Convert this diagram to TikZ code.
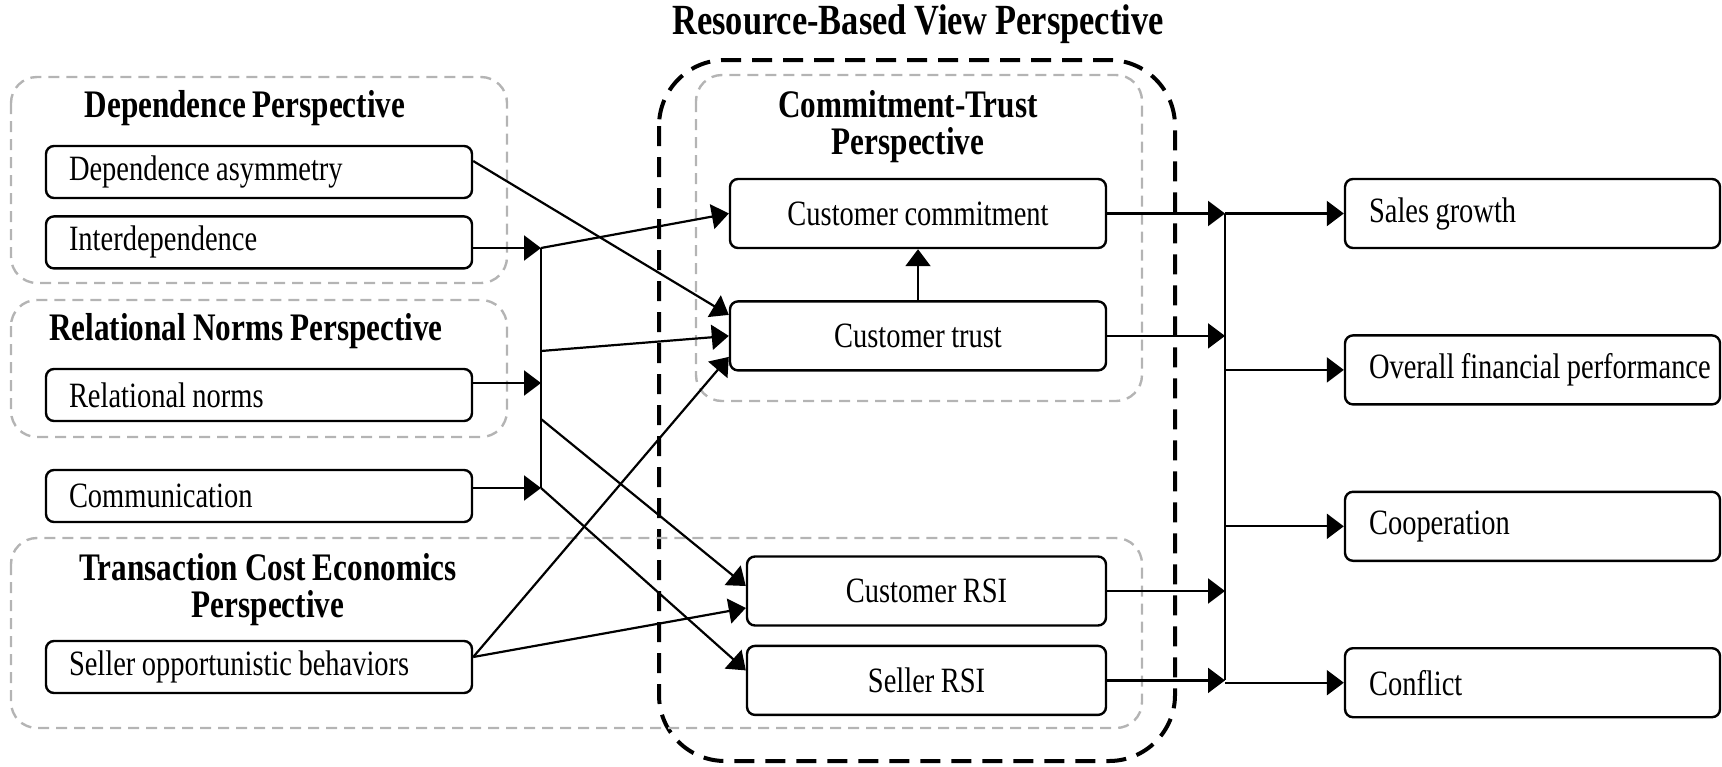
\documentclass[tikz,border=0pt]{standalone}
\usepackage{fontspec}
\setmainfont{Liberation Serif}[FakeStretch=0.8, WordSpace=0.9]
\usepackage{xcolor}
\usepackage{tikz}
\usetikzlibrary{positioning,arrows.meta}
\definecolor{PerspGray}{HTML}{B4B4B4}
\definecolor{FrameBlack}{HTML}{000000}
\tikzset{factorbox/.style={draw, rounded corners=4pt, line width=1.2pt, minimum width=213pt, minimum height=26pt, inner xsep=11.5pt, text width=190pt, align=flush left, font=\fontsize{17.8pt}{20pt}\selectfont}, corebox/.style={draw, rounded corners=4pt, line width=1.2pt, minimum width=188pt, minimum height=34.5pt, align=center, font=\fontsize{17.8pt}{20pt}\selectfont}, outcomebox/.style={draw, rounded corners=4pt, line width=1.2pt, minimum width=187.5pt, minimum height=34.5pt, inner xsep=12pt, text width=163.5pt, align=flush left, font=\fontsize{17.8pt}{20pt}\selectfont}, persptitle/.style={font=\fontsize{19.5pt}{18.5pt}\selectfont\bfseries, inner sep=0pt}, rbvtitle/.style={font=\fontsize{21.5pt}{24pt}\selectfont\bfseries, inner sep=0pt}, perspframe/.style={draw=PerspGray, line width=1.2pt, dash pattern=on 5.5pt off 3.5pt, rounded corners=13pt}, rbvframe/.style={draw=FrameBlack, line width=2pt, dash pattern=on 10pt off 5.5pt, rounded corners=33pt}, link/.style={line width=1.1pt}, linkarrow/.style={-{Triangle[length=8.5pt,width=12.5pt]}, line width=1.1pt}}
\begin{document}
\begin{tikzpicture}[x=0.5pt,y=-0.5pt]
\useasboundingbox (0,0) rectangle (1722,766);
\draw[rbvframe] (659,60) rectangle (1175,761);
\draw[perspframe] (11,77) rectangle (507,283);
\draw[perspframe] (11,300) rectangle (507,437);
\draw[perspframe] (11,538) rectangle (1142,728);
\draw[perspframe] (696,75) rectangle (1142,401);
\node[rbvtitle] (rbvtitle) at (918,24) {Resource-Based View Perspective};
\node[persptitle] (deptitle) at (245,108) {Dependence Perspective};
\node[persptitle] (reltitle) at (246,331) {Relational Norms Perspective};
\node[persptitle, align=center] (tcetitle) at (268,590) {Transaction Cost Economics\\Perspective};
\node[persptitle, align=center] (cttitle) at (908,127) {Commitment-Trust\\Perspective};
\node[factorbox] (depasym) at (259,172) {Dependence asymmetry};
\node[factorbox, below=8pt of depasym] (interdep) {Interdependence};
\node[factorbox] (relnorms) at (259,395) {Relational norms};
\node[factorbox] (comm) at (259,496) {Communication};
\node[factorbox] (sellopp) at (259,667) {Seller opportunistic behaviors};
\node[corebox] (commit) at (918,213.5) {Customer commitment};
\node[corebox, below=25.5pt of commit] (trust) {Customer trust};
\node[corebox, minimum width=179.5pt] (custrsi) at (926.5,591) {Customer RSI};
\node[corebox, minimum width=179.5pt, below=9pt of custrsi] (sellrsi) {Seller RSI};
\node[outcomebox] (sales) at (1532.5,213.5) {Sales growth};
\node[outcomebox, below=42.5pt of sales] (overall) {\mbox{Overall financial performance}};
\node[outcomebox, below=42.5pt of overall] (coop) {Cooperation};
\node[outcomebox, below=42.5pt of coop] (conflict) {Conflict};
\coordinate (bustop) at (541,248);
\coordinate (busmid) at (541,351);
\coordinate (busrel) at (541,383);
\coordinate (busrsi) at (541,419);
\coordinate (busbot) at (541,488);
\coordinate (rbus) at (1225,0);
\draw[link] (bustop) -- (busbot);
\draw[linkarrow] (interdep.east |- bustop) -- (bustop);
\draw[linkarrow] (relnorms.east |- busrel) -- (busrel);
\draw[linkarrow] (comm.east |- busbot) -- (busbot);
\draw[linkarrow] (bustop) -- (commit.west);
\draw[linkarrow] (busmid) -- (trust.west);
\draw[linkarrow] (busrsi) -- ([yshift=2.5pt]custrsi.west);
\draw[linkarrow] (busbot) -- ([yshift=5pt]sellrsi.west);
\draw[linkarrow] ([yshift=5.5pt]depasym.east) -- ([yshift=10.5pt]trust.west);
\draw[linkarrow] ([yshift=5pt]sellopp.east) -- ([yshift=-10.5pt]trust.west);
\draw[linkarrow] ([yshift=5pt]sellopp.east) -- ([yshift=-8.5pt]custrsi.west);
\draw[linkarrow] (trust.north) -- (commit.south);
\draw[link] (commit.east -| rbus) -- (sellrsi.east -| rbus);
\draw[linkarrow] (commit.east) -- (commit.east -| rbus);
\draw[linkarrow] (trust.east) -- (trust.east -| rbus);
\draw[linkarrow] (custrsi.east) -- (custrsi.east -| rbus);
\draw[linkarrow] (sellrsi.east) -- (sellrsi.east -| rbus);
\draw[linkarrow] (sales.west -| rbus) -- (sales.west);
\draw[linkarrow] (overall.west -| rbus) -- (overall.west);
\draw[linkarrow] (coop.west -| rbus) -- (coop.west);
\draw[linkarrow] (conflict.west -| rbus) -- (conflict.west);
\end{tikzpicture}
\end{document}
